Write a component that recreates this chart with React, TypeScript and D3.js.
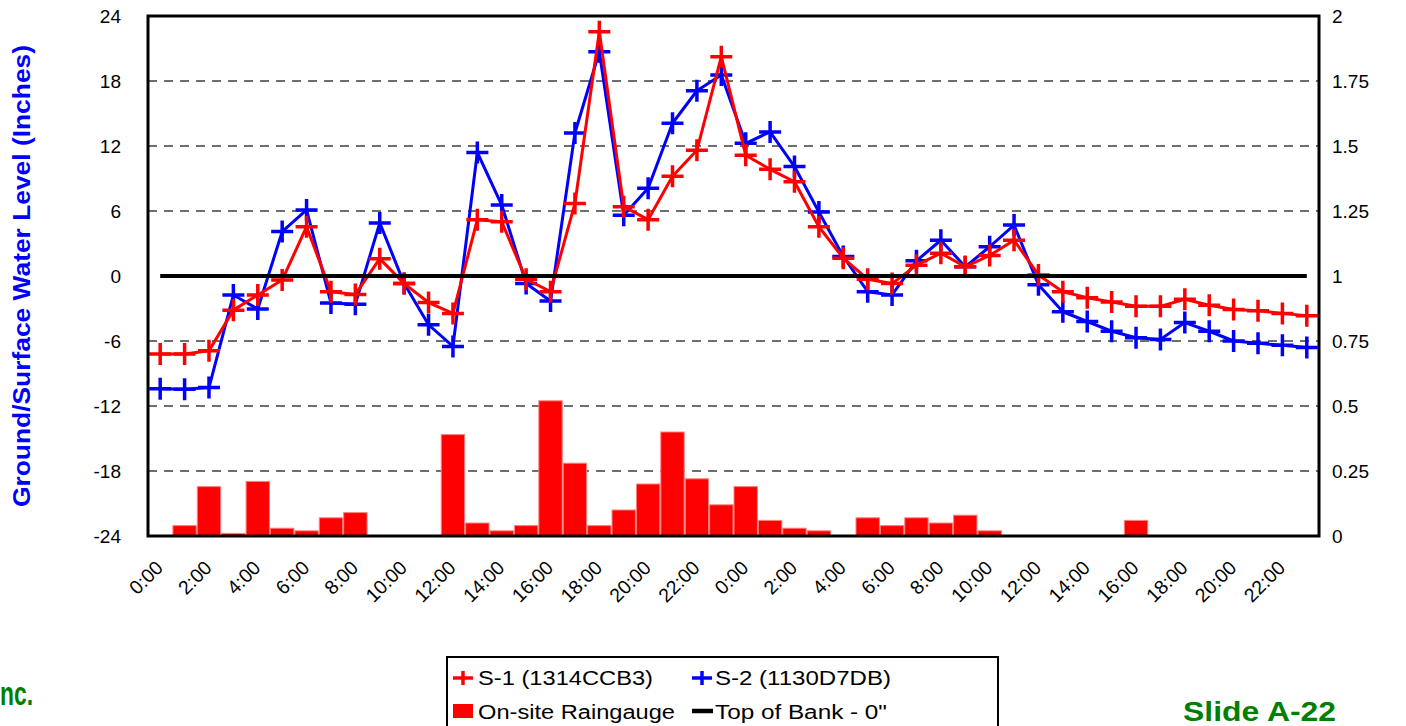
import React from 'react';
import * as d3 from 'd3';

const timeLabels = [
  '0:00','1:00','2:00','3:00','4:00','5:00','6:00','7:00','8:00','9:00','10:00','11:00',
  '12:00','13:00','14:00','15:00','16:00','17:00','18:00','19:00','20:00','21:00','22:00','23:00',
  '0:00','1:00','2:00','3:00','4:00','5:00','6:00','7:00','8:00','9:00','10:00','11:00',
  '12:00','13:00','14:00','15:00','16:00','17:00','18:00','19:00','20:00','21:00','22:00','23:00',
];

// S-1 (1314CCB3) water level, inches
const s1Values = [
  -7.2, -7.2, -6.9, -3.15, -1.75, -0.37, 4.55, -1.45, -1.7, 1.6, -0.7, -2.45,
  -3.45, 5.2, 5.0, -0.3, -1.45, 6.7, 22.55, 6.4, 5.2, 9.2, 11.6, 20.25,
  11.15, 9.85, 8.7, 4.55, 1.65, -0.3, -0.7, 1.0, 2.1, 0.85, 1.9, 3.3,
  0.1, -1.45, -2.0, -2.4, -2.8, -2.8, -2.15, -2.7, -3.1, -3.2, -3.45, -3.66,
];

// S-2 (1130D7DB) water level, inches
const s2Values = [
  -10.4, -10.45, -10.3, -1.75, -3.05, 4.1, 6.1, -2.5, -2.6, 4.9, -0.7, -4.5,
  -6.5, 11.4, 6.55, -0.7, -2.3, 13.2, 20.7, 5.6, 8.1, 14.1, 17.1, 18.55,
  12.25, 13.3, 10.1, 5.9, 1.8, -1.45, -1.75, 1.4, 3.3, 0.85, 2.7, 4.7,
  -0.8, -3.3, -4.2, -5.1, -5.7, -5.85, -4.3, -5.1, -6.0, -6.2, -6.4, -6.6,
];

// On-site raingauge, inches (right axis)
const rainValues = [
  0, 0.04, 0.19, 0.01, 0.21, 0.03, 0.02, 0.07, 0.09, 0, 0, 0,
  0.39, 0.05, 0.02, 0.04, 0.52, 0.28, 0.04, 0.10, 0.20, 0.40, 0.22, 0.12,
  0.19, 0.06, 0.03, 0.02, 0, 0.07, 0.04, 0.07, 0.05, 0.08, 0.02, 0,
  0, 0, 0, 0, 0.06, 0, 0, 0, 0, 0, 0, 0,
];

const bankLevel = 0;
const leftTicks = [24, 18, 12, 6, 0, -6, -12, -18, -24];
const rightTicks = [2, 1.75, 1.5, 1.25, 1, 0.75, 0.5, 0.25, 0];
const gridValues = [18, 12, 6, -6, -12, -18];

const W = 1406;
const H = 726;
const M = { left: 148, right: 1319, top: 16, bottom: 536 };
const FONT = "'Liberation Sans', Arial, sans-serif";
const GREEN = '#008000';

const idx = d3.range(timeLabels.length);
const x = d3.scaleBand<number>().domain(idx).range([M.left, M.right]).padding(0);
const y = d3.scaleLinear().domain([-24, 24]).range([M.bottom, M.top]);
const yR = d3.scaleLinear().domain([0, 2]).range([M.bottom, M.top]);
const cx = (i: number) => (x(i) as number) + x.bandwidth() / 2;

const line = d3
  .line<number>()
  .x((_, i) => cx(i))
  .y((d) => y(d));

const plusPath = 'M-11,0H11M0,-11V11';

function Series({ values, color }: { values: number[]; color: string }) {
  return (
    <g>
      <path d={line(values) as string} fill="none" stroke={color} strokeWidth={3} strokeLinejoin="round" />
      {values.map((v, i) => (
        <path key={i} d={plusPath} transform={`translate(${cx(i)},${y(v)})`} stroke={color} strokeWidth={3.5} fill="none" />
      ))}
    </g>
  );
}

export default function App() {
  return (
    <svg
      width={W}
      height={H}
      viewBox={`0 0 ${W} ${H}`}
      style={{ position: 'absolute', left: 0, top: 0, display: 'block', background: '#fff' }}
      fontFamily={FONT}
    >
      <rect x={0} y={0} width={W} height={H} fill="#fff" />

      {/* gridlines */}
      {gridValues.map((v) => (
        <line key={v} x1={M.left} x2={M.right} y1={y(v)} y2={y(v)} stroke="#6e6e6e" strokeWidth={2} strokeDasharray="9,7" />
      ))}

      {/* rain bars */}
      {rainValues.map((v, i) =>
        v > 0 ? (
          <rect
            key={i}
            x={(x(i) as number) + 0.5}
            y={yR(v)}
            width={x.bandwidth() - 1}
            height={M.bottom - yR(v)}
            fill="#ff0000"
            stroke="#ff8080"
            strokeWidth={1}
          />
        ) : null
      )}

      <Series values={s2Values} color="#0000ff" />
      <Series values={s1Values} color="#ff0000" />

      {/* Top of bank line */}
      <line x1={cx(0)} x2={cx(idx.length - 1)} y1={y(bankLevel)} y2={y(bankLevel)} stroke="#000" strokeWidth={4} />

      {/* plot border */}
      <rect x={M.left} y={M.top} width={M.right - M.left} height={M.bottom - M.top} fill="none" stroke="#000" strokeWidth={3} />

      {/* left axis labels */}
      {leftTicks.map((v) => (
        <text key={v} x={121} y={y(v)} dy="0.35em" textAnchor="end" fontSize={19} fill="#000">
          {String(v)}
        </text>
      ))}

      {/* right axis labels */}
      {rightTicks.map((v) => (
        <text key={v} x={1332} y={yR(v)} dy="0.35em" textAnchor="start" fontSize={19} fill="#000">
          {String(v)}
        </text>
      ))}

      {/* x labels */}
      {idx
        .filter((i) => i % 2 === 0)
        .map((i) => (
          <text
            key={i}
            transform={`translate(${cx(i) + 4},569) rotate(-45)`}
            textAnchor="end"
            fontSize={19.5}
            fill="#000"
          >
            {timeLabels[i]}
          </text>
        ))}

      {/* y axis title */}
      <text
        transform="translate(30,276) rotate(-90)"
        textAnchor="middle"
        fontSize={23}
        fontWeight="bold"
        fill="#0000ff"
        textLength={462}
        lengthAdjust="spacingAndGlyphs"
      >
        Ground/Surface Water Level (Inches)
      </text>

      {/* legend */}
      <g>
        <rect x={447} y={657} width={551} height={80} fill="#fff" stroke="#000" strokeWidth={2} />
        <line x1={453} x2={473} y1={678} y2={678} stroke="#ff0000" strokeWidth={3.5} />
        <line x1={463} x2={463} y1={671} y2={685} stroke="#ff0000" strokeWidth={3.5} />
        <text x={478} y={685} fontSize={20} textLength={175} lengthAdjust="spacingAndGlyphs">S-1 (1314CCB3)</text>
        <line x1={692} x2={712} y1={678} y2={678} stroke="#0000ff" strokeWidth={3.5} />
        <line x1={702} x2={702} y1={671} y2={685} stroke="#0000ff" strokeWidth={3.5} />
        <text x={715} y={685} fontSize={20} textLength={176} lengthAdjust="spacingAndGlyphs">S-2 (1130D7DB)</text>
        <rect x={453} y={704} width={20} height={14} fill="#ff0000" />
        <text x={478} y={719} fontSize={20} textLength={197} lengthAdjust="spacingAndGlyphs">On-site Raingauge</text>
        <line x1={692} x2={713} y1={711} y2={711} stroke="#000" strokeWidth={4.5} />
        <text x={715} y={719} fontSize={20} textLength={172} lengthAdjust="spacingAndGlyphs">Top of Bank - 0"</text>
      </g>

      {/* footer texts */}
      <text x={0} y={705} fontSize={34} fontWeight="bold" fill={GREEN} textLength={33} lengthAdjust="spacingAndGlyphs">nc.</text>
      <text x={1183} y={721} fontSize={28} fontWeight="bold" fill={GREEN} textLength={153} lengthAdjust="spacingAndGlyphs">Slide A-22</text>
    </svg>
  );
}
